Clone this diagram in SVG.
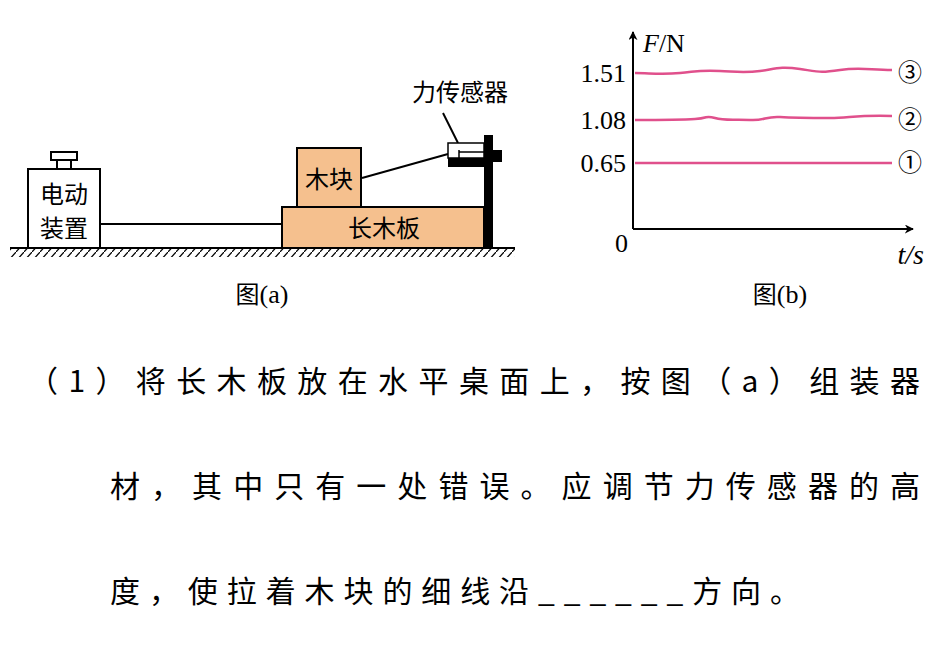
<svg xmlns="http://www.w3.org/2000/svg" width="930" height="645" viewBox="0 0 930 645">
<defs>
<style>
.s{stroke:#000;stroke-width:2;fill:none}
.cn{font-family:"Noto Sans CJK SC",sans-serif;fill:#000}
.tm{font-family:"Liberation Serif",serif;fill:#000}
.w{fill:#f5c08e;stroke:#000;stroke-width:2}
.c{stroke:#e0508c;stroke-width:2.5;fill:none}
</style>
<pattern id="h" width="8" height="9" patternUnits="userSpaceOnUse"><path d="M8,0 L0,9" stroke="#000" stroke-width="1.2"/></pattern>
<marker id="a" viewBox="0 0 10 10" refX="9" refY="5" markerWidth="9" markerHeight="9" orient="auto" markerUnits="userSpaceOnUse"><path d="M0,0 L10,5 L0,10 L3,5Z" fill="#000"/></marker>
</defs>
<rect width="930" height="645" fill="#fff"/>
<g id="ground"><rect x="10" y="248" width="505" height="9" fill="url(#h)"/><line x1="10" y1="248" x2="515" y2="248" class="s"/></g>
<g id="connectors">
<line x1="100" y1="224" x2="282" y2="224" class="s"/>
<line x1="362" y1="178" x2="448" y2="154" class="s"/>
<line x1="443" y1="113" x2="458" y2="143" class="s" stroke-width="1.5"/>
</g>
<g id="motor">
<rect x="51" y="152" width="26" height="8" fill="#fff" class="s" stroke-width="1.5"/>
<rect x="57" y="160" width="14" height="9" fill="#fff" class="s" stroke-width="1.5"/>
<rect x="28" y="169" width="72" height="79" fill="#fff" class="s"/>
<text x="64" y="203" class="cn" font-size="24" text-anchor="middle">电动</text>
<text x="64" y="237" class="cn" font-size="24" text-anchor="middle">装置</text>
</g>
<g id="board"><rect x="282" y="207" width="202" height="41" class="w"/><text x="384" y="237" class="cn" font-size="24" text-anchor="middle">长木板</text></g>
<g id="block"><rect x="297" y="148" width="64" height="59" class="w"/><text x="329" y="188" class="cn" font-size="24" text-anchor="middle">木块</text></g>
<g id="stand">
<rect x="484" y="135" width="9" height="113" fill="#000"/>
<rect x="493" y="150" width="9" height="12" fill="#000"/>
<rect x="448" y="157" width="36" height="10" fill="#000"/>
<rect x="448" y="143" width="36" height="15" fill="#fff" stroke="#000" stroke-width="1.5"/>
<line x1="459" y1="150" x2="459" y2="158" stroke="#000" stroke-width="1.5"/>
<line x1="459" y1="152" x2="484" y2="152" stroke="#000" stroke-width="1.5"/>
<text x="460" y="101" class="cn" font-size="24" text-anchor="middle">力传感器</text>
</g>
<text x="262" y="303" class="cn" font-size="24" text-anchor="middle">图<tspan class="tm" font-size="26">(a)</tspan></text>
<g id="chart">
<line x1="633" y1="229" x2="633" y2="32" class="s" marker-end="url(#a)"/>
<line x1="633" y1="229" x2="913" y2="229" class="s" marker-end="url(#a)"/>
<text x="643" y="52" class="tm" font-size="26"><tspan font-style="italic">F</tspan>/N</text>
<text x="628" y="252" class="tm" font-size="26" text-anchor="end">0</text>
<text x="924" y="264" class="tm" font-size="28" font-style="italic" text-anchor="end">t/s</text>
<text x="626" y="82" class="tm" font-size="26" text-anchor="end">1.51</text>
<text x="626" y="129" class="tm" font-size="26" text-anchor="end">1.08</text>
<text x="626" y="172" class="tm" font-size="26" text-anchor="end">0.65</text>
<path class="c" d="M635,73 C650,73 660,75 680,73 S700,70 720,71 S745,73 760,71 S780,66 800,69 S820,73 840,70 S870,70 892,70"/>
<path class="c" d="M635,120 C660,120 680,120 695,119 S705,115 715,118 S735,119 750,120 S765,116 780,117 S810,118 830,118 S855,115 892,116"/>
<line x1="635" y1="163" x2="892" y2="163" class="c"/>
<text x="910" y="81" class="cn" font-size="24" text-anchor="middle">③</text>
<text x="910" y="128" class="cn" font-size="24" text-anchor="middle">②</text>
<text x="910" y="171" class="cn" font-size="24" text-anchor="middle">①</text>
</g>
<text x="780" y="303" class="cn" font-size="24" text-anchor="middle">图<tspan class="tm" font-size="26">(b)</tspan></text>
<g id="question" class="cn" font-size="30">
<text x="28" y="392" textLength="892" lengthAdjust="spacing">（1）将长木板放在水平桌面上，按图（a）组装器</text>
<text x="110" y="497" textLength="810" lengthAdjust="spacing">材，其中只有一处错误。应调节力传感器的高</text>
<text x="110" y="602" textLength="690" lengthAdjust="spacing">度，使拉着木块的细线沿______方向。</text>
</g>
</svg>
